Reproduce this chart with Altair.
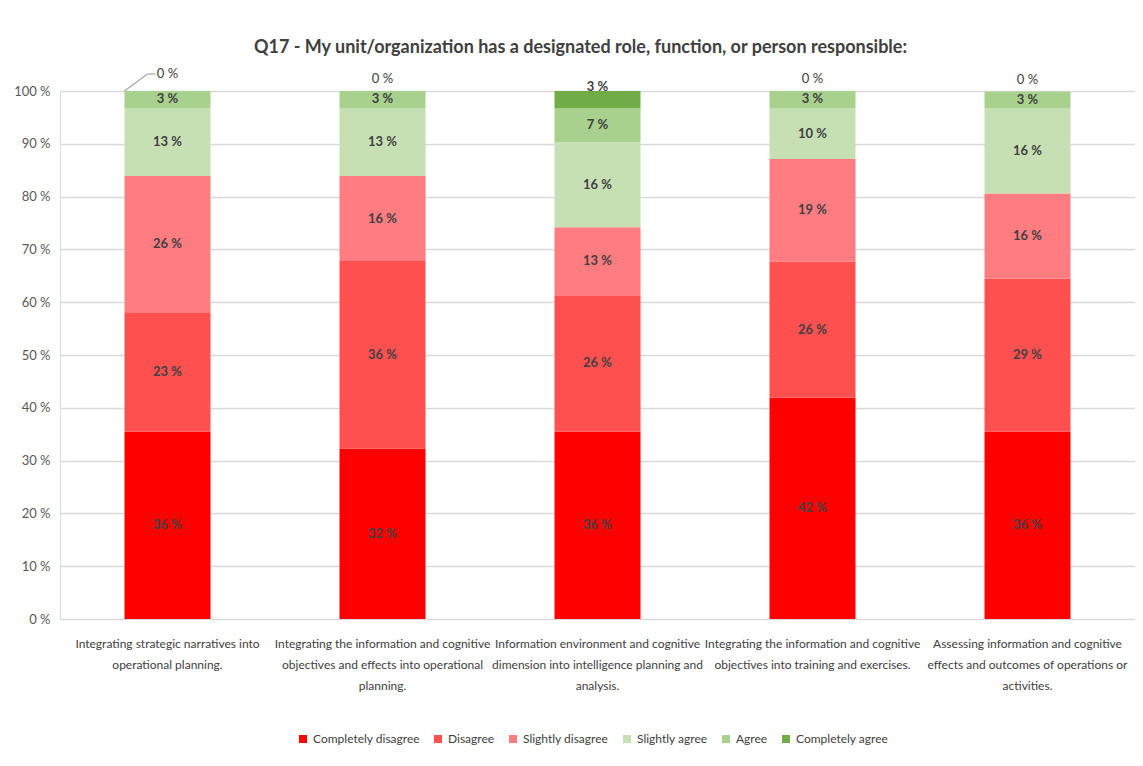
import altair as alt
import pandas as pd

categories = [
    "Integrating strategic narratives into|operational planning.",
    "Integrating the information and cognitive|objectives and effects into operational|planning.",
    "Information environment and cognitive|dimension into intelligence planning and|analysis.",
    "Integrating the information and cognitive|objectives into training and exercises.",
    "Assessing information and cognitive|effects and outcomes of operations or|activities.",
]
levels = ["Completely disagree", "Disagree", "Slightly disagree",
          "Slightly agree", "Agree", "Completely agree"]
colors = ["#FF0000", "#FF5050", "#FF7C80", "#C6E0B4", "#A9D18E", "#70AD47"]

completely_disagree = [35.5, 32.3, 35.5, 41.9, 35.5]
disagree = [22.6, 35.5, 25.8, 25.8, 29.0]
slightly_disagree = [25.8, 16.1, 12.9, 19.4, 16.1]
slightly_agree = [12.9, 12.9, 16.1, 9.7, 16.1]
agree = [3.2, 3.2, 6.5, 3.2, 3.2]
completely_agree = [0.0, 0.0, 3.2, 0.0, 0.0]

series = [completely_disagree, disagree, slightly_disagree,
          slightly_agree, agree, completely_agree]

rows = []
for li, (lvl, vals) in enumerate(zip(levels, series)):
    for ci, cat in enumerate(categories):
        rows.append({"category": cat, "level": lvl, "order": li, "cidx": ci, "value": vals[ci]})
df = pd.DataFrame(rows)

FONT = "Lato, Roboto, sans-serif"
TXT = "#404040"

base = alt.Chart(df).transform_stack(
    stack="value", groupby=["category"], as_=["y0", "y1"],
    sort=[alt.SortField("order", order="ascending")]
).transform_calculate(
    mid="(datum.y0 + datum.y1) / 2",
    lab="format(datum.value, '.0f') + ' %'"
)

xenc = alt.X("category:N", sort=categories, title=None,
             scale=alt.Scale(paddingInner=0.6, paddingOuter=0.3),
             axis=alt.Axis(labelAngle=0, labelExpr="split(datum.label, '|')",
                           labelFont=FONT, labelFontSize=12, labelColor=TXT,
                           labelLineHeight=21, labelPadding=19, ticks=False,
                           domain=False, labelLimit=300))

bars = base.mark_bar().encode(
    x=xenc,
    y=alt.Y("y0:Q", title=None, scale=alt.Scale(domain=[0, 100], nice=False),
            axis=alt.Axis(values=list(range(0, 101, 10)),
                          labelExpr="datum.value + ' %'",
                          labelFont=FONT, labelFontSize=13, labelColor="#595959",
                          labelPadding=10, ticks=False, domain=False,
                          gridColor="#D9D9D9", gridWidth=1.5)),
    y2="y1:Q",
    color=alt.Color("level:N", sort=levels,
                    scale=alt.Scale(domain=levels, range=colors),
                    legend=alt.Legend(title=None, orient="none", direction="horizontal",
                                      legendX=237, legendY=642,
                                      symbolType="square", symbolSize=64,
                                      symbolStrokeWidth=0, labelFont=FONT,
                                      labelFontSize=12, labelColor=TXT,
                                      columnPadding=12, labelOffset=4,
                                      labelLimit=300)),
)

inner = base.transform_filter("datum.level != 'Completely agree'").mark_text(
    font=FONT, fontSize=13, fontWeight="bold", color=TXT, baseline="middle"
).encode(
    x=alt.X("category:N", sort=categories),
    y=alt.Y("mid:Q"),
    text="lab:N",
)

top_base = base.transform_filter("datum.level == 'Completely agree'")

# zero labels sit above the bar; the first one is pulled out with a leader line
top_zero = top_base.transform_filter("datum.value == 0 && datum.cidx > 0").mark_text(
    font=FONT, fontSize=13, color=TXT, baseline="middle", dy=-12
).encode(x=alt.X("category:N", sort=categories), y=alt.Y("y1:Q"), text="lab:N")

top_first = top_base.transform_filter("datum.value == 0 && datum.cidx == 0").mark_text(
    font=FONT, fontSize=13, color=TXT, baseline="middle", dy=-17
).encode(x=alt.X("category:N", sort=categories), y=alt.Y("y1:Q"), text="lab:N")

top_nonzero = top_base.transform_filter("datum.value > 0").mark_text(
    font=FONT, fontSize=13, fontWeight="bold", color=TXT, baseline="middle", dy=-4
).encode(x=alt.X("category:N", sort=categories), y=alt.Y("y1:Q"), text="lab:N")

leader1 = top_base.transform_filter("datum.value == 0 && datum.cidx == 0").mark_rule(
    color="#A6A6A6", strokeWidth=1.2, xOffset=-43, x2Offset=-20, y2Offset=-17
).encode(x=alt.X("category:N", sort=categories), x2="category:N",
         y=alt.Y("y1:Q"), y2="y1:Q")

leader2 = top_base.transform_filter("datum.value == 0 && datum.cidx == 0").mark_rule(
    color="#A6A6A6", strokeWidth=1.2, xOffset=-20, x2Offset=-12, yOffset=-17, y2Offset=-17
).encode(x=alt.X("category:N", sort=categories), x2="category:N",
         y=alt.Y("y1:Q"), y2="y1:Q")

chart = alt.layer(bars, inner, leader1, leader2, top_zero, top_first, top_nonzero).properties(
    width=1075, height=528,
    autosize=alt.AutoSizeParams(type="none"),
    padding={"left": 52, "top": 83, "right": 0, "bottom": 139},
    title=alt.Title("Q17 - My unit/organization has a designated role, function, or person responsible:",
                    font=FONT, fontSize=18, fontWeight="bold", color=TXT,
                    anchor="middle", offset=11, dx=-17),
).configure_view(strokeWidth=0, stroke="transparent").configure(background="white")

chart.save("out.html", embed_options={"renderer": "svg", "actions": False})
